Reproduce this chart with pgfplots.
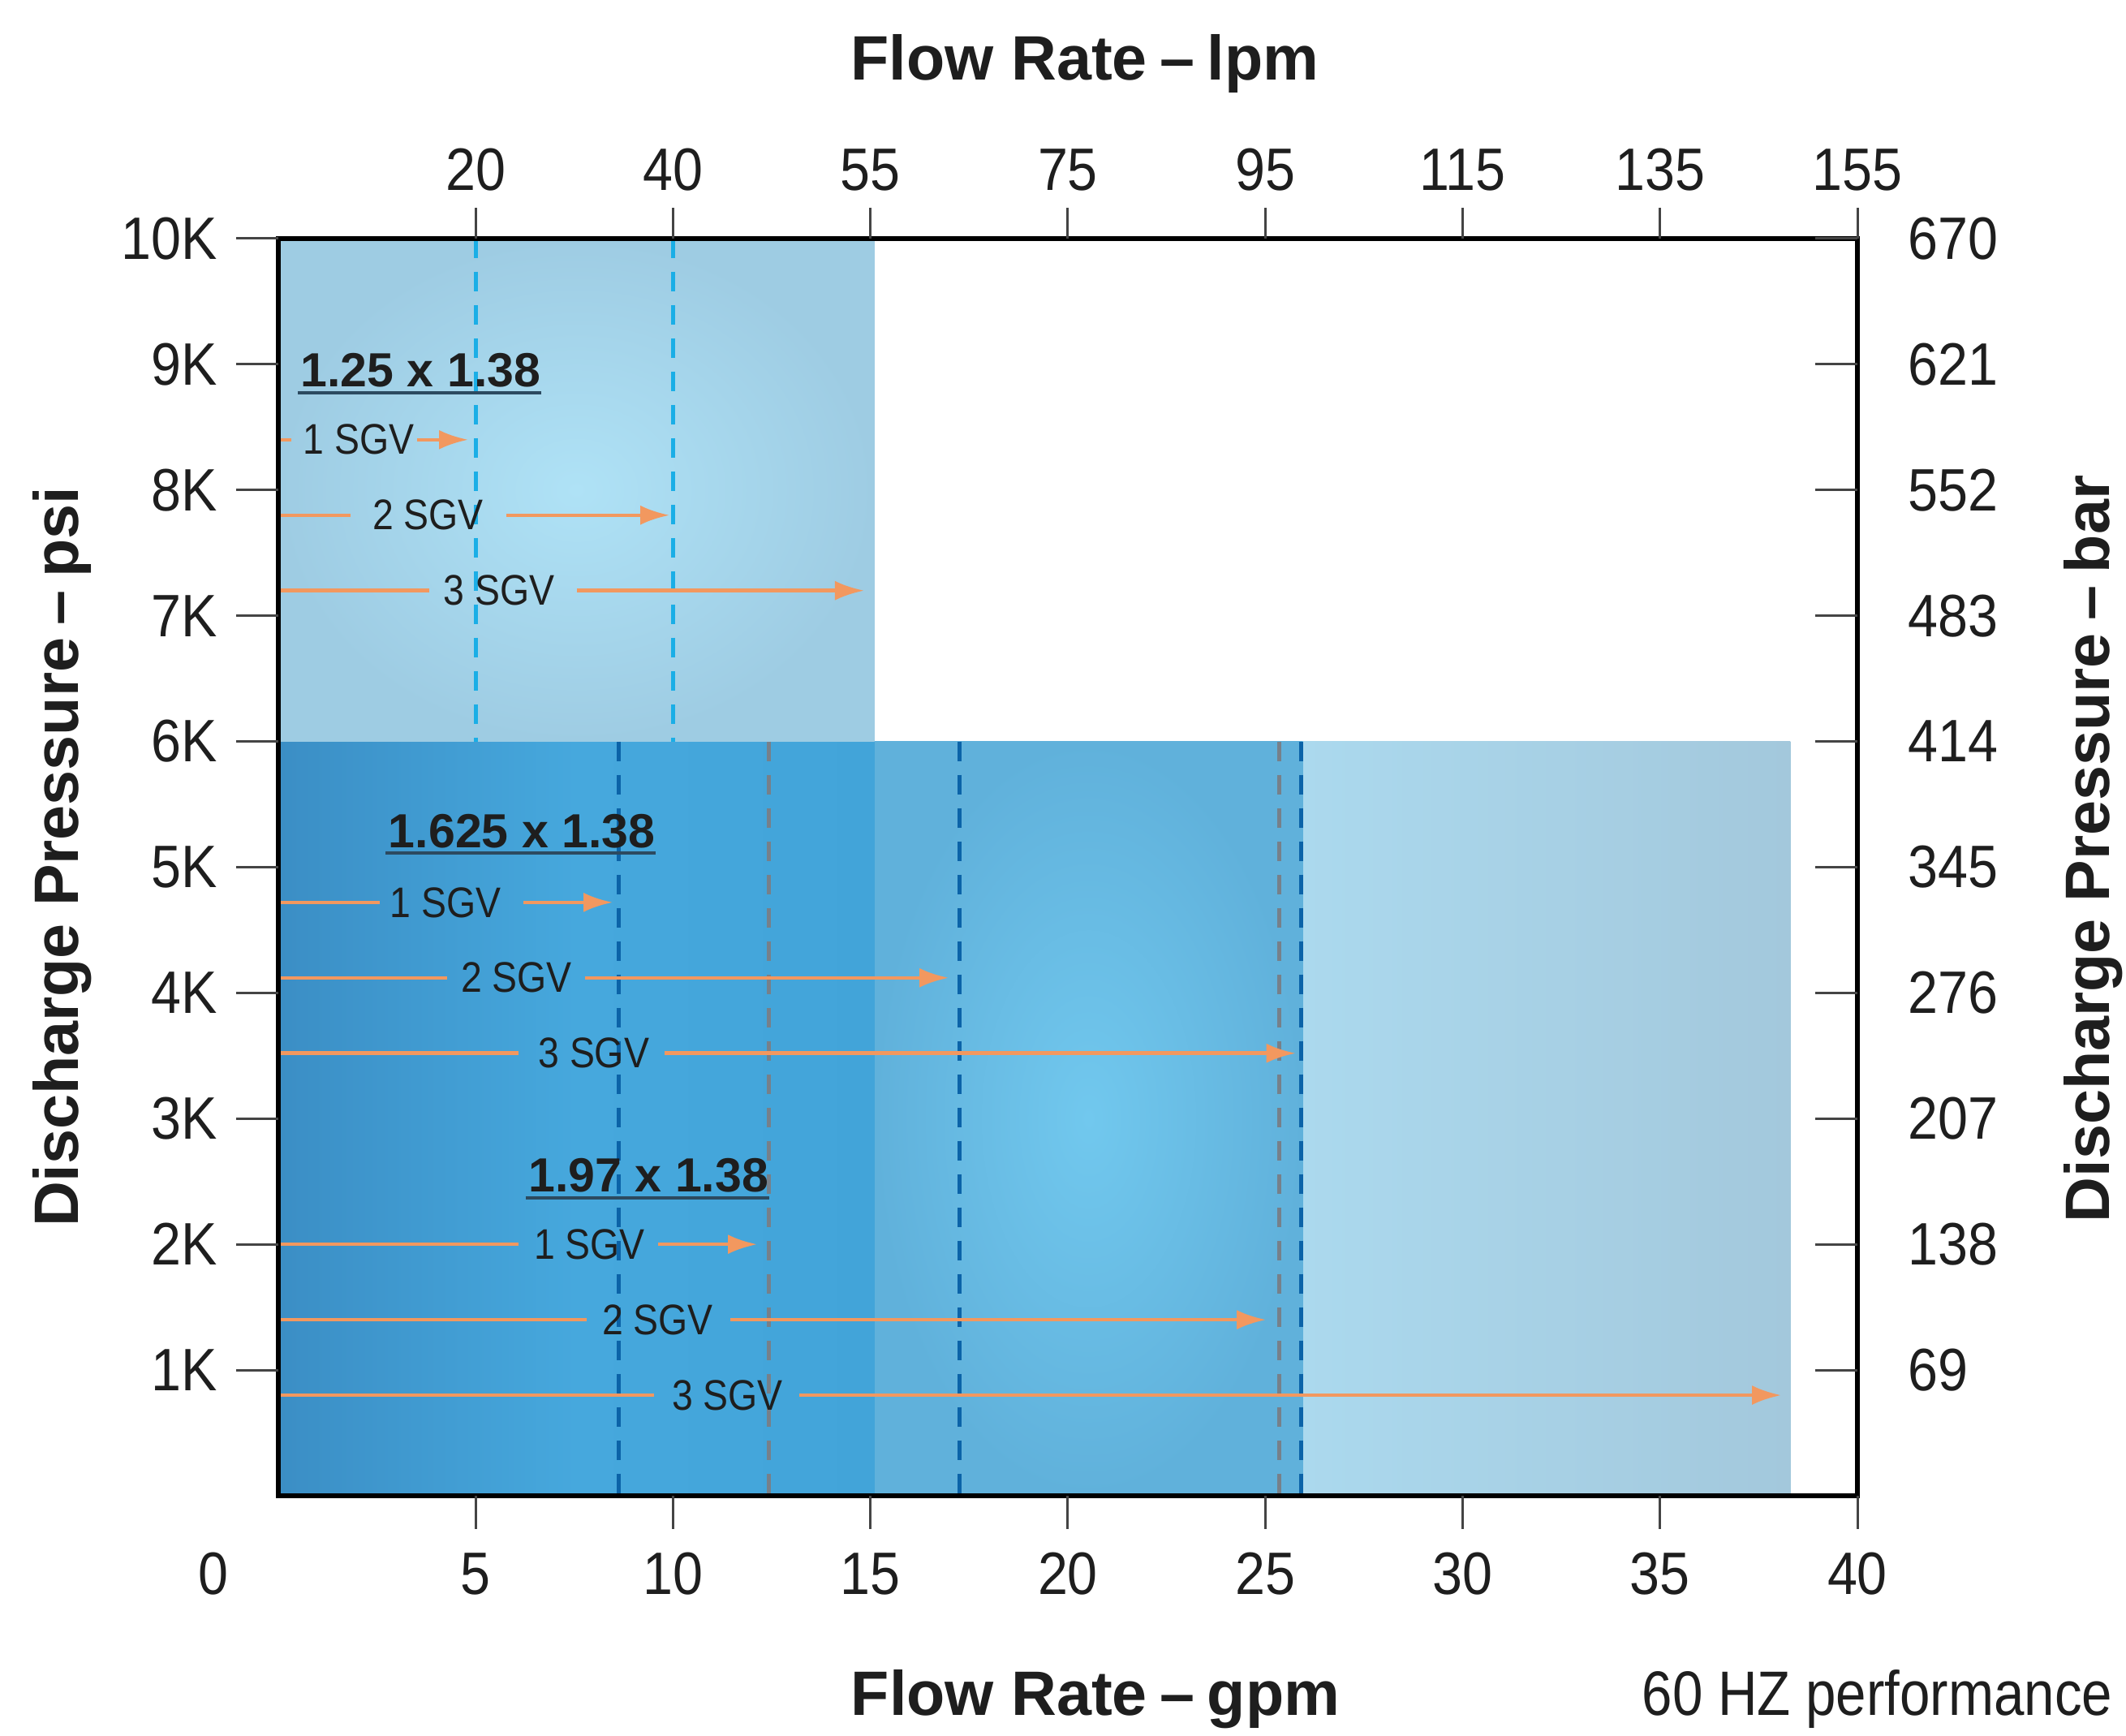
\documentclass[border=0pt]{standalone}
\usepackage{fontspec}
\setmainfont{Liberation Sans}
\newfontfamily\condfont[FakeStretch=0.9]{Liberation Sans}
\newfontfamily\sgvfamily[FakeStretch=0.88]{Liberation Sans}
\newfontfamily\notefont[FakeStretch=0.87]{Liberation Sans}
\usepackage{pgfplots}
\pgfplotsset{compat=1.18}
\usetikzlibrary{arrows.meta}

\definecolor{upin}{HTML}{AFE2F6}
\definecolor{upout}{HTML}{9ECCE3}
\definecolor{darkL}{HTML}{3B8EC5}
\definecolor{darkM}{HTML}{46A8DD}
\definecolor{darkR}{HTML}{42A4D9}
\definecolor{midin}{HTML}{71C8EE}
\definecolor{midout}{HTML}{60B1DB}
\definecolor{ltL}{HTML}{ABD9EE}
\definecolor{ltR}{HTML}{A3C8DC}
\definecolor{orng}{HTML}{F2985F}
\definecolor{cyandash}{HTML}{1AAEE6}
\definecolor{bluedash}{HTML}{0B63A8}
\definecolor{graydash}{HTML}{76808A}
\definecolor{ink}{HTML}{1E1E1E}
\definecolor{ulcol}{HTML}{2C4A60}
\definecolor{tickcol}{HTML}{444444}

\newcommand\tickfont{\condfont\fontsize{21}{25}\selectfont}
\newcommand\sgvfont{\sgvfamily\fontsize{15}{18}\selectfont}
\newcommand\grpfont{\bfseries\fontsize{16.8}{20}\selectfont}
\newcommand\titfont{\bfseries\fontsize{22}{26}\selectfont}

\pgfplotsset{
  base/.style={scale only axis, width=19.46cm, height=15.49cm,
    xmin=0, xmax=40, ymin=0, ymax=10000, at={(0,0)}, anchor=south west,
    scaled ticks=false},
  side/.style={base, axis line style={draw=none},
    tick style={line width=0.03cm, draw=tickcol},
    tick label style={font=\tickfont, text=ink}},
  dsh/.style={line width=0.05cm, dash pattern=on 0.24cm off 0.17cm},
  seg/.style={orng, line width=0.045cm},
  arr/.style={orng, line width=0.045cm, -{Latex[length=0.36cm,width=0.24cm]}},
}
\tikzset{
  sgv/.style={font=\sgvfont, text=ink, inner sep=0pt, anchor=center},
  grp/.style={font=\grpfont, text=ink, inner sep=0pt, anchor=base west},
}

\begin{document}
\begin{tikzpicture}
% main frame with the shaded ranges
\begin{axis}[base, axis on top, xtick=\empty, ytick=\empty,
    axis line style={line width=0.065cm, black}]
% 1.97 x 1.38 range
\addplot[draw=none, left color=ltL, right color=ltR]
  coordinates {(25.9,0)(38.3,0)(38.3,6000)(25.9,6000)};
% 1.625 x 1.38 range
\addplot[draw=none, inner color=midin, outer color=midout]
  coordinates {(15.1,0)(25.95,0)(25.95,6000)(15.1,6000)};
\addplot[draw=none, left color=darkL, right color=darkR, middle color=darkM]
  coordinates {(0,0)(15.1,0)(15.1,6000)(0,6000)};
% 1.25 x 1.38 range
\addplot[draw=none, inner color=upin, outer color=upout]
  coordinates {(0,6000)(15.1,6000)(15.1,10000)(0,10000)};

% dashed limits
\addplot[dsh, cyandash] coordinates {(5,10000)(5,6000)};
\addplot[dsh, cyandash] coordinates {(10,10000)(10,6000)};
\addplot[dsh, bluedash] coordinates {(8.63,6000)(8.63,0)};
\addplot[dsh, graydash] coordinates {(12.43,6000)(12.43,0)};
\addplot[dsh, bluedash] coordinates {(17.25,6000)(17.25,0)};
\addplot[dsh, graydash] coordinates {(25.35,6000)(25.35,0)};
\addplot[dsh, bluedash] coordinates {(25.9,6000)(25.9,0)};

% 1.25 x 1.38
\addplot[seg] coordinates {(0,8400)(0.33,8400)};
\addplot[arr] coordinates {(3.51,8400)(4.81,8400)};
\addplot[seg] coordinates {(0,7800)(1.83,7800)};
\addplot[arr] coordinates {(5.78,7800)(9.91,7800)};
\addplot[seg] coordinates {(0,7200)(3.82,7200)};
\addplot[arr] coordinates {(7.57,7200)(14.84,7200)};
% 1.625 x 1.38
\addplot[seg] coordinates {(0,4720)(2.57,4720)};
\addplot[arr] coordinates {(6.21,4720)(8.47,4720)};
\addplot[seg] coordinates {(0,4120)(4.28,4120)};
\addplot[arr] coordinates {(7.77,4120)(16.98,4120)};
\addplot[seg] coordinates {(0,3520)(6.09,3520)};
\addplot[arr] coordinates {(9.78,3520)(25.77,3520)};
% 1.97 x 1.38
\addplot[seg] coordinates {(0,2000)(6.09,2000)};
\addplot[arr] coordinates {(9.62,2000)(12.13,2000)};
\addplot[seg] coordinates {(0,1400)(7.82,1400)};
\addplot[arr] coordinates {(11.45,1400)(25.02,1400)};
\addplot[seg] coordinates {(0,800)(9.52,800)};
\addplot[arr] coordinates {(13.2,800)(38.07,800)};

\node[grp] (g1) at (axis cs:0.555,8820) {1.25 x 1.38};
\node[grp] (g2) at (axis cs:2.78,5155) {1.625 x 1.38};
\node[grp] (g3) at (axis cs:6.33,2415) {1.97 x 1.38};

\node[sgv] at (axis cs:2.03,8400) {1 SGV};
\node[sgv] at (axis cs:3.79,7800) {2 SGV};
\node[sgv] at (axis cs:5.59,7200) {3 SGV};
\node[sgv] at (axis cs:4.24,4720) {1 SGV};
\node[sgv] at (axis cs:6.03,4120) {2 SGV};
\node[sgv] at (axis cs:7.99,3520) {3 SGV};
\node[sgv] at (axis cs:7.88,2000) {1 SGV};
\node[sgv] at (axis cs:9.61,1400) {2 SGV};
\node[sgv] at (axis cs:11.38,800) {3 SGV};
\end{axis}

% bottom scale (gpm)
\begin{axis}[side, axis x line*=bottom, axis y line=none,
    xtick={5,10,...,40}, xticklabels={5,10,15,20,25,30,35,40},
    xticklabel style={yshift=-0.17cm},
    tick align=outside, major tick length=0.41cm]
\end{axis}
% top scale (lpm)
\begin{axis}[side, axis x line*=top, axis y line=none,
    xtick={5,10,...,40}, xticklabels={20,40,55,75,95,115,135,155},
    xticklabel style={yshift=0.08cm},
    tick align=outside, major tick length=0.38cm]
\end{axis}
% left scale (psi)
\begin{axis}[side, axis y line*=left, axis x line=none,
    ytick={1000,2000,...,10000},
    yticklabels={1K,2K,3K,4K,5K,6K,7K,8K,9K,10K},
    yticklabel style={xshift=-0.11cm},
    tick align=outside, major tick length=0.52cm]
\end{axis}
% right scale (bar)
\begin{axis}[side, axis y line*=right, axis x line=none,
    ytick={1000,2000,...,10000},
    yticklabels={69,138,207,276,345,414,483,552,621,670},
    yticklabel style={xshift=0.50cm},
    tick align=inside, major tick length=0.52cm]
\end{axis}

\foreach \g in {g1,g2,g3}
  \draw[ulcol, line width=0.04cm]
    ([xshift=-0.03cm,yshift=-0.07cm]\g.base west) -- ([yshift=-0.07cm]\g.base east);

\node[font=\tickfont, text=ink, anchor=north] at (-0.80,-0.58) {0};
\node[font=\titfont, text=ink, anchor=base] at (9.94,17.44)
  {Flow Rate\hspace{0.2em}–\hspace{0.2em}lpm};
\node[font=\titfont, text=ink, anchor=base] at (10.07,-2.71)
  {Flow Rate\hspace{0.2em}–\hspace{0.2em}gpm};
\node[font=\titfont, text=ink, anchor=base, rotate=90] at (-2.46,7.87)
  {Discharge Pressure\hspace{0.2em}–\hspace{0.2em}psi};
\node[font=\titfont, text=ink, anchor=base, rotate=90] at (22.56,7.97)
  {Discharge Pressure\hspace{0.2em}–\hspace{0.2em}bar};
\node[font=\notefont\fontsize{22}{26}\selectfont, text=ink, anchor=base west, inner sep=0pt]
  at (16.80,-2.71) {60 HZ performance};

\pgfresetboundingbox
\useasboundingbox (-3.43,-2.96) rectangle (22.77,18.43);
\end{tikzpicture}
\end{document}
